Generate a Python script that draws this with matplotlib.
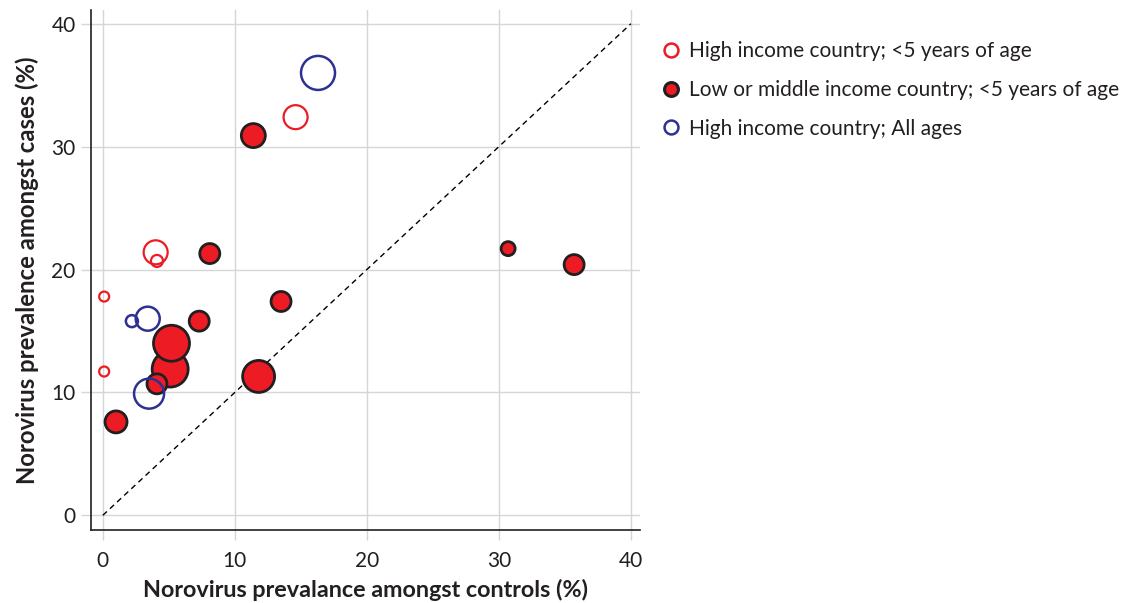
import numpy as np
import matplotlib.pyplot as plt

plt.rcParams['font.family'] = ['Lato', 'DejaVu Sans']

# ===================== DADOS =====================
# high income country, <5 years of age
hi5_ctrl = [0.1, 0.1, 4.0, 4.1, 14.6]
hi5_case = [17.8, 11.7, 21.4, 20.7, 32.4]
hi5_rad = [5, 5, 12, 6, 12]

# low or middle income country, <5 years of age
lmi_ctrl = [11.4, 8.1, 30.7, 35.7, 13.5, 7.3, 5.1, 5.2, 4.1, 11.8, 1.0]
lmi_case = [30.9, 21.3, 21.7, 20.4, 17.4, 15.8, 11.9, 14.0, 10.7, 11.3, 7.6]
lmi_rad = [12, 10, 7, 10, 10, 10, 18, 18, 10, 16, 11]

# high income country, all ages
hia_ctrl = [16.3, 3.4, 2.2, 3.5]
hia_case = [36.0, 16.0, 15.8, 9.9]
hia_rad = [17, 12, 6, 15]

RED = '#ed1c24'
BLUE = '#2e3192'
GRID = '#d6d6d6'
INK = '#231f20'


def area(rad):
    # raio em pixels -> area do marcador em pt^2 (dpi 100)
    return (2 * np.asarray(rad) * 0.72) ** 2


fig = plt.figure(figsize=(11.37, 6.03), dpi=100)
ax = fig.add_axes([0.080, 0.121, 0.483, 0.862])

ax.plot([0, 40], [0, 40], ls=(0, (4, 3)), color='black', lw=1.0, zorder=1)

ax.scatter(lmi_ctrl, lmi_case, s=area(lmi_rad), facecolor=RED,
           edgecolor=INK, linewidth=2.0, zorder=3)
ax.scatter(hi5_ctrl, hi5_case, s=area(hi5_rad), facecolor='none',
           edgecolor=RED, linewidth=1.6, zorder=4)
ax.scatter(hia_ctrl, hia_case, s=area(hia_rad), facecolor='none',
           edgecolor=BLUE, linewidth=1.8, zorder=5)

ax.set_xlim(-0.9, 40.7)
ax.set_ylim(-1.2, 41.1)
ax.set_xticks([0, 10, 20, 30, 40])
ax.set_yticks([0, 10, 20, 30, 40])
ax.grid(True, color=GRID, lw=1.0)
ax.set_axisbelow(True)
ax.tick_params(axis='both', color=GRID, length=7, width=1.0,
               labelsize=15, labelcolor=INK)
ax.tick_params(axis='x', pad=8)
ax.tick_params(axis='y', pad=4)
for side in ['top', 'right']:
    ax.spines[side].set_visible(False)
for side in ['left', 'bottom']:
    ax.spines[side].set_linewidth(1.2)
    ax.spines[side].set_color(INK)

ax.set_xlabel('Norovirus prevalance amongst controls (%)', fontsize=16.8,
              fontweight='bold', color=INK, labelpad=6)
ax.set_ylabel('Norovirus prevalence amongst cases (%)', fontsize=17.2,
              fontweight='bold', color=INK, labelpad=9)

# ===================== LEGENDA =====================
handles = [
    plt.Line2D([], [], ls='none', marker='o', ms=10, mfc='none', mec=RED, mew=1.8),
    plt.Line2D([], [], ls='none', marker='o', ms=10, mfc=RED, mec=INK, mew=2.2),
    plt.Line2D([], [], ls='none', marker='o', ms=10, mfc='none', mec=BLUE, mew=1.8),
]
labels = ['High income country; <5 years of age',
          'Low or middle income country; <5 years of age',
          'High income country; All ages']
fig.legend(handles, labels, loc='upper left', bbox_to_anchor=(0.566, 0.963),
           frameon=False, fontsize=15, handlelength=0.8, handletextpad=0.5,
           labelspacing=0.9, labelcolor=INK)

fig.savefig('out.png', dpi=100)
